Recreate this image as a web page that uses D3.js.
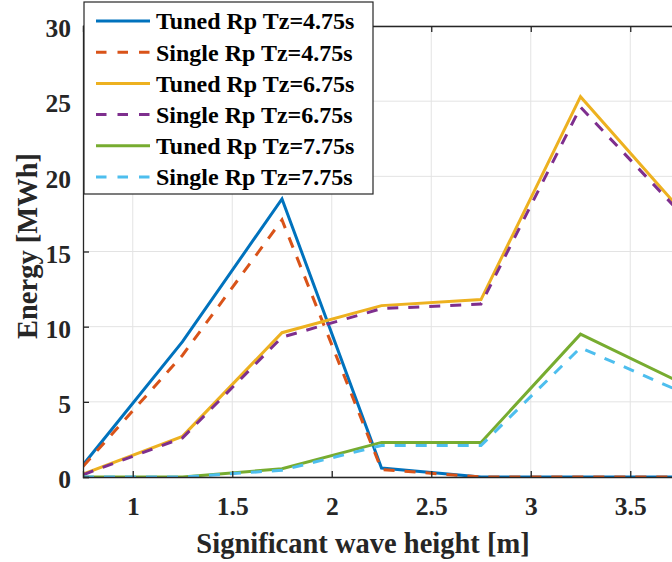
<!DOCTYPE html>
<html><head><meta charset="utf-8">
<script src="https://cdn.jsdelivr.net/npm/d3@7/dist/d3.min.js"></script>
<style>body{margin:0;background:#fff}svg{display:block}</style>
</head><body>
<svg id="c" width="672" height="562"></svg>
<script>
const waveHeights = [0.75, 1.25, 1.75, 2.25, 2.75, 3.25, 3.75];
const tunedTz475  = [0.8, 9.0, 18.5, 0.6, 0.0, 0.0, 0.0];
const singleTz475 = [0.7, 8.1, 17.1, 0.5, 0.0, 0.0, 0.0];
const tunedTz675  = [0.2, 2.7, 9.6, 11.4, 11.8, 25.3, 17.8];
const singleTz675 = [0.15, 2.6, 9.3, 11.2, 11.5, 24.6, 17.6];
const tunedTz775  = [0.0, 0.0, 0.55, 2.3, 2.3, 9.5, 6.3];
const singleTz775 = [0.0, 0.0, 0.45, 2.1, 2.1, 8.6, 5.7];
const seriesNames = ["Tuned Rp Tz=4.75s","Single Rp Tz=4.75s","Tuned Rp Tz=6.75s","Single Rp Tz=6.75s","Tuned Rp Tz=7.75s","Single Rp Tz=7.75s"];
const seriesColors = ["#0072BD","#D95319","#EDB120","#7E2F8E","#77AC30","#4DBEEE"];
const seriesDashed = [false,true,false,true,false,true];
const xTicks = [1, 1.5, 2, 2.5, 3, 3.5];
const yTicks = [0, 5, 10, 15, 20, 25, 30];
const xLabel = "Significant wave height [m]";
const yLabel = "Energy [MWh]";

const seriesValues = [tunedTz475, singleTz475, tunedTz675, singleTz675, tunedTz775, singleTz775];

const svg = d3.select("#c");
const L = 83, T = 26, B = 477;
const x = d3.scaleLinear().domain([0.75, 4.25]).range([L, L + 199 * 3.5]);
const y = d3.scaleLinear().domain([0, 30]).range([B, T]);
const R = x(4.25);
const font = "'Liberation Serif','Times New Roman',serif";

// grid
const g = svg.append("g");
g.selectAll("line.gx").data(xTicks).enter().append("line")
  .attr("x1", d => x(d)).attr("x2", d => x(d)).attr("y1", T).attr("y2", B)
  .attr("stroke", "#e3e3e3").attr("stroke-width", 1);
g.selectAll("line.gy").data(yTicks).enter().append("line")
  .attr("x1", L).attr("x2", R).attr("y1", d => y(d)).attr("y2", d => y(d))
  .attr("stroke", "#e3e3e3").attr("stroke-width", 1);

// clip
svg.append("clipPath").attr("id", "pc").append("rect")
  .attr("x", L).attr("y", T - 5).attr("width", R - L).attr("height", B - T + 5);

const line = d3.line().x((d, i) => x(waveHeights[i])).y(d => y(d));
const lines = svg.append("g").attr("clip-path", "url(#pc)");
seriesValues.forEach((vals, k) => {
  lines.append("path").datum(vals).attr("d", line)
    .attr("fill", "none").attr("stroke", seriesColors[k]).attr("stroke-width", 3)
    .attr("stroke-dasharray", seriesDashed[k] ? "11,10" : null)
    .attr("stroke-linejoin", "miter");
});

// axes
const ax = svg.append("g").attr("font-family", font);
const xb = ax.append("g").attr("transform", `translate(0,${B})`)
  .call(d3.axisBottom(x).tickValues(xTicks).tickSize(-6).tickPadding(20).tickFormat(d3.format("")));
const xt = ax.append("g").attr("transform", `translate(0,${T})`)
  .call(d3.axisTop(x).tickValues(xTicks).tickSize(-6).tickFormat(""));
const yl = ax.append("g").attr("transform", `translate(${L},0)`)
  .call(d3.axisLeft(y).tickValues(yTicks).tickSize(-6).tickPadding(12).tickFormat(d3.format("")));
[xb, xt, yl].forEach(a => {
  a.select(".domain").attr("stroke", "#262626").attr("stroke-width", 1.3);
  a.selectAll(".tick line").attr("stroke", "#262626").attr("stroke-width", 1.3);
  a.selectAll(".tick text").attr("fill", "#262626").attr("font-size", 25.5).attr("font-weight", "bold").attr("font-family", font);
});
xb.selectAll(".tick text").attr("dy", "0.71em");
yl.selectAll(".tick text").attr("dy", "0.42em");

svg.append("text").attr("x", 363).attr("y", 553).attr("text-anchor", "middle")
  .attr("font-family", font).attr("font-size", 28.5).attr("font-weight", "bold").attr("fill", "#262626")
  .text(xLabel);
svg.append("text").attr("transform", "translate(37,246) rotate(-90)").attr("text-anchor", "middle")
  .attr("font-family", font).attr("font-size", 28.5).attr("font-weight", "bold").attr("fill", "#262626")
  .text(yLabel);

// legend
const lg = svg.append("g");
lg.append("rect").attr("x", 84).attr("y", 2).attr("width", 289).attr("height", 192)
  .attr("fill", "#fff").attr("stroke", "#262626").attr("stroke-width", 1.2);
seriesNames.forEach((n, k) => {
  const cy = 21 + k * 31.2;
  lg.append("line").attr("x1", 96).attr("x2", 150).attr("y1", cy).attr("y2", cy)
    .attr("stroke", seriesColors[k]).attr("stroke-width", 3)
    .attr("stroke-dasharray", seriesDashed[k] ? "10.5,11" : null);
  lg.append("text").attr("x", 156).attr("y", cy).attr("dy", "0.35em")
    .attr("font-family", font).attr("font-size", 24).attr("font-weight", "bold").attr("fill", "#000")
    .text(n);
});
</script>
</body></html>
